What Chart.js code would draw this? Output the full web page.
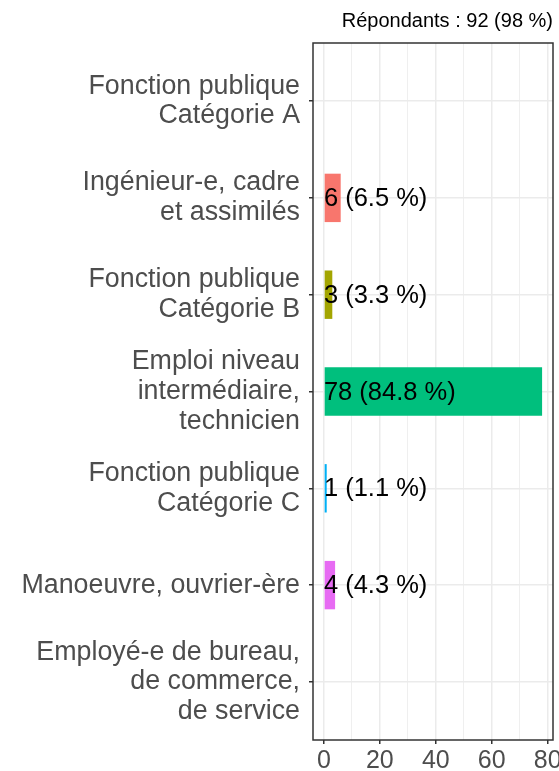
<!DOCTYPE html>
<html>
<head>
<meta charset="utf-8">
<script src="https://cdn.jsdelivr.net/npm/chart.js@4"></script>
<style>
  html, body { margin: 0; padding: 0; background: #fff; }
  #wrap { width: 559px; height: 771px; position: relative; }
</style>
</head>
<body>
<div id="wrap"><canvas id="chart"></canvas></div>
<script>
const categories = [
  ["Fonction publique", "Catégorie A"],
  ["Ingénieur-e, cadre", "et assimilés"],
  ["Fonction publique", "Catégorie B"],
  ["Emploi niveau", "intermédiaire,", "technicien"],
  ["Fonction publique", "Catégorie C"],
  ["Manoeuvre, ouvrier-ère"],
  ["Employé-e de bureau,", "de commerce,", "de service"],
];
const counts = [0, 6, 3, 78, 1, 4, 0];
const percents = [0, 6.5, 3.3, 84.8, 1.1, 4.3, 0];
const barColors = ["#F8766D", "#F8766D", "#A3A500", "#00BF7D", "#00B0F6", "#E76BF3", "#E76BF3"];
const xTicks = [0, 10, 20, 30, 40, 50, 60, 70, 80];
const titleText = "Répondants : 92 (98 %)";

const FONT = "'Liberation Sans', Arial, sans-serif";

// etiquettes "n (x %)" posées à partir de 0
const valueLabels = {
  id: "valueLabels",
  afterDatasetsDraw(chart) {
    const ctx = chart.ctx;
    const xs = chart.scales.x;
    const ys = chart.scales.y;
    ctx.save();
    ctx.font = "25.5px " + FONT;
    ctx.fillStyle = "#000";
    ctx.textAlign = "left";
    ctx.textBaseline = "middle";
    counts.forEach((n, i) => {
      if (!n) return;
      ctx.fillText(`${n} (${percents[i].toFixed(1)} %)`, xs.getPixelForValue(0), ys.getPixelForValue(i) + 1);
    });
    ctx.restore();
  },
};

// cadre du panneau + titre
const panelFrame = {
  id: "panelFrame",
  afterDraw(chart) {
    const { ctx, chartArea: a } = chart;
    ctx.save();
    ctx.strokeStyle = "#333333";
    ctx.lineWidth = 1.5;
    ctx.strokeRect(a.left, a.top, a.right - a.left, a.bottom - a.top);
    ctx.font = "20px " + FONT;
    ctx.fillStyle = "#000";
    ctx.textAlign = "right";
    ctx.textBaseline = "alphabetic";
    ctx.fillText(titleText, 553, 27);
    ctx.restore();
  },
};

function noPad(s) {
  s.paddingTop = 0;
  s.paddingBottom = 0;
  s.paddingLeft = 0;
  s.paddingRight = 0;
}

new Chart(document.getElementById("chart"), {
  type: "bar",
  data: {
    datasets: [
      {
        data: counts.map((v, i) => ({ x: v, y: i })),
        backgroundColor: barColors,
        borderWidth: 0,
        barPercentage: 0.5,
        categoryPercentage: 1,
      },
    ],
  },
  options: {
    indexAxis: "y",
    responsive: true,
    maintainAspectRatio: false,
    animation: false,
    layout: { padding: { top: 43, right: 6, left: 0, bottom: 0 } },
    plugins: {
      legend: { display: false },
      tooltip: { enabled: false },
      title: { display: false },
    },
    scales: {
      x: {
        type: "linear",
        min: -3.9,
        max: 81.9,
        afterBuildTicks: (s) => { s.ticks = xTicks.map((v) => ({ value: v })); },
        afterFit: (s) => { s.height = 31; noPad(s); },
        ticks: {
          autoSkip: false,
          maxRotation: 0,
          padding: 2,
          color: "#4D4D4D",
          font: { family: FONT, size: 25 },
          callback: (v) => (v % 20 === 0 ? String(v) : ""),
        },
        grid: {
          color: "#EBEBEB",
          lineWidth: (c) => (c.tick && c.tick.value % 20 === 0 ? 1.5 : 0.8),
          tickColor: (c) => (c.tick && c.tick.value % 20 === 0 ? "#333333" : "rgba(0,0,0,0)"),
          tickWidth: 1.5,
          tickLength: 4,
          drawTicks: true,
        },
        border: { display: false },
      },
      y: {
        type: "linear",
        reverse: true,
        offset: false,
        min: -0.6,
        max: 6.6,
        afterBuildTicks: (s) => { s.ticks = categories.map((c, i) => ({ value: i })); },
        afterFit: (s) => { s.width = 313; noPad(s); },
        ticks: {
          autoSkip: false,
          padding: 9,
          color: "#4D4D4D",
          font: { family: FONT, size: 26.8, lineHeight: 1.11 },
          callback: (v) => categories[v],
        },
        grid: {
          offset: false,
          color: "#EBEBEB",
          lineWidth: 1.5,
          tickColor: "#333333",
          tickWidth: 1.5,
          tickLength: 4,
        },
        border: { display: false },
      },
    },
  },
  plugins: [valueLabels, panelFrame],
});
</script>
</body>
</html>
